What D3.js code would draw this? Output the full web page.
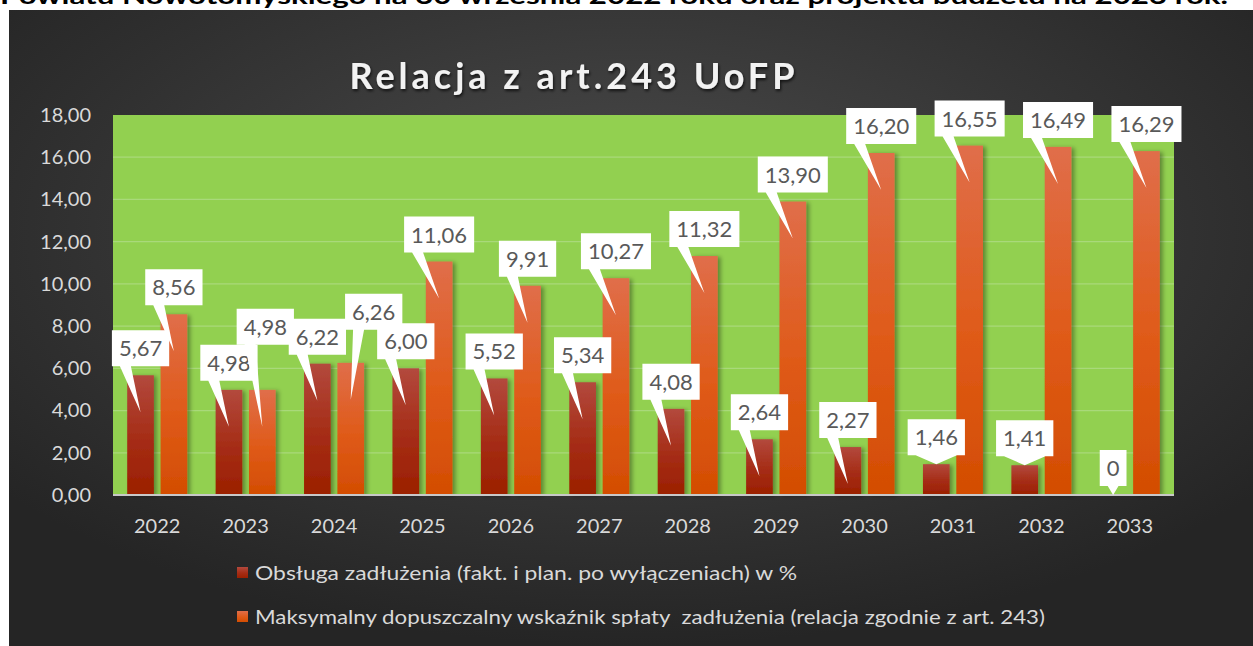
<!DOCTYPE html>
<html>
<head>
<meta charset="utf-8">
<script src="https://cdn.jsdelivr.net/npm/d3@7"></script>
<style>
  body { margin: 0; background: #fff; overflow: hidden; }
  svg { display: block; font-family: Lato, "Open Sans", sans-serif; }
</style>
</head>
<body>
<div id="container"></div>
<script>
/* DATA */
const years = ["2022", "2023", "2024", "2025", "2026", "2027", "2028", "2029", "2030", "2031", "2032", "2033"];
const obsluga = [5.67, 4.98, 6.22, 6.00, 5.52, 5.34, 4.08, 2.64, 2.27, 1.46, 1.41, 0];
const maksymalny = [8.56, 4.98, 6.26, 11.06, 9.91, 10.27, 11.32, 13.90, 16.20, 16.55, 16.49, 16.29];
const yTicks = [0, 2, 4, 6, 8, 10, 12, 14, 16, 18];
const seriesNames = [
  "Obsługa zadłużenia (fakt. i plan. po wyłączeniach) w %",
  "Maksymalny dopuszczalny wskaźnik spłaty  zadłużenia (relacja zgodnie z art. 243)"
];
const chartTitle = "Relacja z art.243 UoFP";
const headerText = "Powiatu Nowotomyskiego na 30 września 2022 roku oraz projektu budżetu na 2023 rok.";

/* LAYOUT */
const width = 1253, height = 646;
const plot = { left: 113, right: 1174, top: 115, bottom: 495 };
// manual label nudges "yearIndex-seriesIndex" -> [dx, dy], like the moved labels in the original
const labelNudge = { "1-1": [3, -36], "2-1": [23, -24] };

const svg = d3.select("#container").append("svg")
  .attr("width", width)
  .attr("height", height);

const defs = svg.append("defs");

const bg = defs.append("radialGradient").attr("id", "bg")
  .attr("cx", "50%").attr("cy", "35%").attr("r", "65%");
bg.append("stop").attr("offset", "0%").attr("stop-color", "#4c4c4c");
bg.append("stop").attr("offset", "100%").attr("stop-color", "#252525");

const gradRed = defs.append("linearGradient").attr("id", "gRed")
  .attr("x1", 0).attr("y1", 0).attr("x2", 0).attr("y2", 1);
gradRed.append("stop").attr("offset", "0%").attr("stop-color", "#b3493d");
gradRed.append("stop").attr("offset", "55%").attr("stop-color", "#a52c15");
gradRed.append("stop").attr("offset", "100%").attr("stop-color", "#9b2000");

const gradOrange = defs.append("linearGradient").attr("id", "gOrange")
  .attr("x1", 0).attr("y1", 0).attr("x2", 0).attr("y2", 1);
gradOrange.append("stop").attr("offset", "0%").attr("stop-color", "#e06e4a");
gradOrange.append("stop").attr("offset", "55%").attr("stop-color", "#df5a18");
gradOrange.append("stop").attr("offset", "100%").attr("stop-color", "#d34d02");

const shadow = defs.append("filter").attr("id", "barShadow")
  .attr("x", "-30%").attr("y", "-10%").attr("width", "160%").attr("height", "120%");
shadow.append("feDropShadow").attr("dx", 3).attr("dy", 1).attr("stdDeviation", 2)
  .attr("flood-color", "#000").attr("flood-opacity", 0.35);

const titleShadow = defs.append("filter").attr("id", "titleShadow");
titleShadow.append("feDropShadow").attr("dx", 1).attr("dy", 2).attr("stdDeviation", 1.5)
  .attr("flood-color", "#000").attr("flood-opacity", 0.7);

// header text cut off at the top
svg.append("text")
  .attr("x", 0).attr("y", 4)
  .attr("font-size", 22).attr("font-weight", "bold")
  .attr("fill", "#000")
  .attr("textLength", 1228).attr("lengthAdjust", "spacingAndGlyphs")
  .text(headerText);

// dark chart background
svg.append("rect")
  .attr("x", 9).attr("y", 10)
  .attr("width", width - 9).attr("height", height - 10)
  .attr("fill", "url(#bg)");

// title
svg.append("text")
  .attr("x", 574).attr("y", 89)
  .attr("text-anchor", "middle")
  .attr("font-size", 36).attr("font-weight", "bold")
  .attr("letter-spacing", 4)
  .attr("fill", "#f2f2f2")
  .attr("filter", "url(#titleShadow)")
  .text(chartTitle);

/* SCALES */
const x0 = d3.scaleBand().domain(years).range([plot.left, plot.right]);
const x1 = d3.scaleBand().domain([0, 1]).range([-30, 30]).paddingInner(0.2);
const yScale = d3.scaleLinear().domain([0, 18]).range([plot.bottom, plot.top]);

// plot area
svg.append("rect")
  .attr("x", plot.left).attr("y", plot.top)
  .attr("width", plot.right - plot.left).attr("height", plot.bottom - plot.top)
  .attr("fill", "#92d050");

// gridlines
svg.append("g")
  .selectAll("line")
  .data(yTicks.filter(d => d > 0 && d < 18))
  .join("line")
  .attr("x1", plot.left).attr("x2", plot.right)
  .attr("y1", d => yScale(d)).attr("y2", d => yScale(d))
  .attr("stroke", "#a9d97a").attr("stroke-width", 1.2);

/* AXES */
const yAxis = d3.axisLeft(yScale).tickValues(yTicks)
  .tickFormat(d => d3.format(".2f")(d).replace(".", ","))
  .tickSize(0).tickPadding(22);
const yG = svg.append("g")
  .attr("transform", `translate(${plot.left}, 0)`)
  .call(yAxis);
yG.select(".domain").remove();
yG.selectAll("text")
  .attr("font-size", 20).attr("fill", "#d9d9d9")
  .attr("font-family", "Lato, sans-serif");

const xAxis = d3.axisBottom(x0).tickSize(0).tickPadding(24);
const xG = svg.append("g")
  .attr("transform", `translate(0, ${plot.bottom})`)
  .call(xAxis);
xG.select(".domain").remove();
xG.selectAll("text")
  .attr("font-size", 20).attr("fill", "#d9d9d9")
  .attr("font-family", "Lato, sans-serif");

/* BARS */
const series = [
  { key: 0, values: obsluga, fill: "url(#gRed)" },
  { key: 1, values: maksymalny, fill: "url(#gOrange)" }
];

const barG = svg.append("g").attr("filter", "url(#barShadow)");
series.forEach(s => {
  barG.selectAll(`.bar-${s.key}`)
    .data(s.values.map((v, i) => ({ year: years[i], value: v })))
    .join("rect")
    .attr("class", `bar-${s.key}`)
    .attr("x", d => x0(d.year) + x0.bandwidth() / 2 + x1(s.key))
    .attr("width", x1.bandwidth())
    .attr("y", d => yScale(d.value))
    .attr("height", d => plot.bottom - yScale(d.value))
    .attr("fill", s.fill);
});

// baseline
svg.append("line")
  .attr("x1", plot.left).attr("x2", plot.right)
  .attr("y1", plot.bottom).attr("y2", plot.bottom)
  .attr("stroke", "#c8c8c8").attr("stroke-width", 2);

/* DATA LABELS (callouts) */
const fmt = v => v === 0 ? "0" : d3.format(".2f")(v).replace(".", ",");
const labelG = svg.append("g");
series.forEach(s => {
  s.values.forEach((v, i) => {
    const cx = x0(years[i]) + x0.bandwidth() / 2 + x1(s.key) + x1.bandwidth() / 2;
    const barTop = yScale(v);
    const nudge = labelNudge[`${i}-${s.key}`] || [0, 0];
    const g = labelG.append("g");
    const txt = g.append("text")
      .attr("font-size", 22).attr("fill", "#595959")
      .attr("text-anchor", "middle")
      .text(fmt(v));
    const tw = txt.node().getComputedTextLength();
    const bw = tw + 14, bh = 36;
    const bx = cx - bw / 2 + nudge[0];
    const bottom = barTop - 9 + nudge[1];
    const top = bottom - bh;
    const tipY = v > 2 ? barTop + 37 : Math.min(barTop, plot.bottom);
    const baseA = bx + 8, baseB = bx + (v > 2 ? 19 : bw - 8);
    const path = `M${bx},${top}H${bx + bw}V${bottom}H${baseB}L${cx},${tipY}L${baseA},${bottom}H${bx}Z`;
    g.insert("path", "text")
      .attr("d", path)
      .attr("fill", "#fff");
    txt.attr("x", bx + bw / 2).attr("y", top + bh / 2 + 8);
  });
});

/* LEGEND */
const legend = svg.append("g");
[{ fill: "url(#gRed)", y: 573 }, { fill: "url(#gOrange)", y: 617 }].forEach((l, i) => {
  legend.append("rect")
    .attr("x", 237).attr("y", l.y - 6)
    .attr("width", 11).attr("height", 11)
    .attr("fill", l.fill);
  legend.append("text")
    .attr("x", 255).attr("y", l.y + 7)
    .attr("font-size", 20).attr("fill", "#d9d9d9")
    .style("white-space", "pre")
    .attr("textLength", i === 0 ? 542 : 790)
    .attr("lengthAdjust", "spacingAndGlyphs")
    .text(seriesNames[i]);
});
</script>
</body>
</html>
